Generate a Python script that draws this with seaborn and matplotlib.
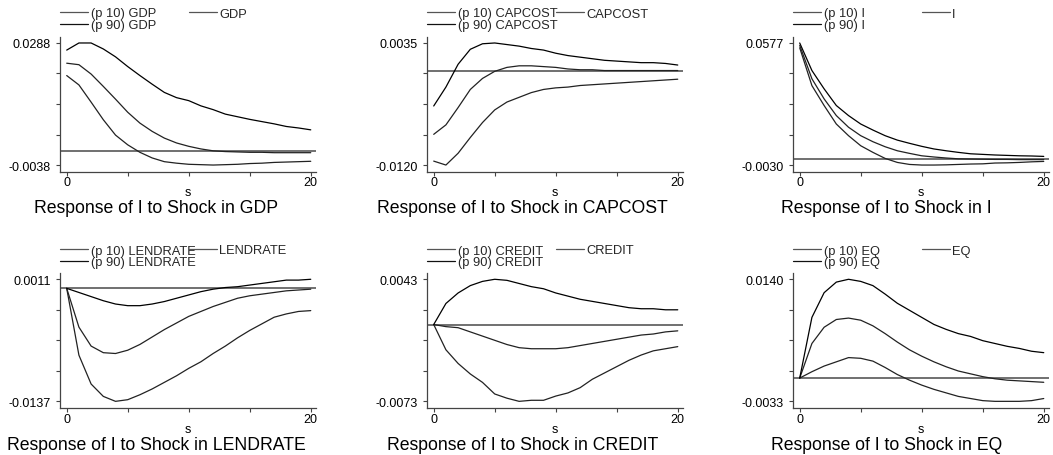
import numpy as np
import pandas as pd
import matplotlib
matplotlib.use("Agg")
import matplotlib.pyplot as plt
from matplotlib.lines import Line2D
import seaborn as sns

# ---------------- data ----------------
steps = list(range(21))
shocks = ["GDP", "CAPCOST", "I", "LENDRATE", "CREDIT", "EQ"]
y_top_labels = ["0.0288", "0.0035", "0.0577", "0.0011", "0.0043", "0.0140"]
y_bot_labels = ["-0.0038", "-0.0120", "-0.0030", "-0.0137", "-0.0073", "-0.0033"]

gdp_p10 = [0.0201, 0.0176, 0.0130, 0.0083, 0.0042, 0.0016, -0.0004, -0.0019, -0.0029, -0.0033, -0.0036,
           -0.0037, -0.0038, -0.0037, -0.0036, -0.0034, -0.0033, -0.0031, -0.0030, -0.0029, -0.0028]
gdp_mid = [0.0234, 0.0230, 0.0205, 0.0172, 0.0138, 0.0103, 0.0074, 0.0052, 0.0034, 0.0021, 0.0012,
           0.0005, 0.0000, -0.0002, -0.0003, -0.0004, -0.0004, -0.0005, -0.0005, -0.0005, -0.0005]
gdp_p90 = [0.0269, 0.0288, 0.0288, 0.0272, 0.0251, 0.0225, 0.0201, 0.0178, 0.0156, 0.0142, 0.0134,
           0.0120, 0.0110, 0.0098, 0.0091, 0.0084, 0.0078, 0.0072, 0.0065, 0.0061, 0.0056]

cap_p10 = [-0.0115, -0.0120, -0.0105, -0.0085, -0.0066, -0.0050, -0.0040, -0.0034, -0.0028, -0.0024, -0.0022,
           -0.0021, -0.0019, -0.0018, -0.0017, -0.0016, -0.0015, -0.0014, -0.0013, -0.0012, -0.0011]
cap_mid = [-0.0081, -0.0069, -0.0047, -0.0024, -0.0010, -0.0001, 0.0004, 0.0006, 0.0006, 0.0005, 0.0004,
           0.0002, 0.0001, 0.0001, 0.0000, 0.0000, 0.0000, 0.0000, 0.0000, 0.0000, 0.0000]
cap_p90 = [-0.0045, -0.0021, 0.0008, 0.0027, 0.0034, 0.0035, 0.0033, 0.0031, 0.0028, 0.0026, 0.0022,
           0.0019, 0.0017, 0.0015, 0.0013, 0.0012, 0.0011, 0.0010, 0.0010, 0.0009, 0.0007]

i_p10 = [0.0553, 0.0365, 0.0266, 0.0174, 0.0116, 0.0066, 0.0033, 0.0003, -0.0017, -0.0027, -0.0030,
         -0.0030, -0.0029, -0.0027, -0.0025, -0.0024, -0.0020, -0.0019, -0.0017, -0.0014, -0.0012]
i_mid = [0.0565, 0.0399, 0.0299, 0.0216, 0.0158, 0.0116, 0.0086, 0.0061, 0.0041, 0.0028, 0.0016,
         0.0010, 0.0005, 0.0001, 0.0000, -0.0001, -0.0002, -0.0002, -0.0003, -0.0003, -0.0003]
i_p90 = [0.0577, 0.0440, 0.0349, 0.0266, 0.0216, 0.0174, 0.0144, 0.0116, 0.0094, 0.0078, 0.0063,
         0.0050, 0.0041, 0.0033, 0.0026, 0.0023, 0.0020, 0.0018, 0.0016, 0.0015, 0.0013]

len_p10 = [0.0000, -0.0081, -0.0116, -0.0131, -0.0137, -0.0135, -0.0129, -0.0122, -0.0114, -0.0106, -0.0097,
           -0.0089, -0.0079, -0.0070, -0.0060, -0.0051, -0.0043, -0.0035, -0.0031, -0.0028, -0.0027]
len_mid = [0.0000, -0.0047, -0.0070, -0.0078, -0.0079, -0.0075, -0.0068, -0.0059, -0.0050, -0.0042, -0.0034,
           -0.0028, -0.0022, -0.0017, -0.0012, -0.0009, -0.0007, -0.0005, -0.0003, -0.0002, -0.0001]
len_p90 = [0.0000, -0.0005, -0.0010, -0.0015, -0.0019, -0.0021, -0.0021, -0.0019, -0.0016, -0.0012, -0.0008,
           -0.0004, -0.0001, 0.0001, 0.0002, 0.0004, 0.0006, 0.0008, 0.0010, 0.0010, 0.0011]

cr_p10 = [0.0000, -0.0024, -0.0037, -0.0047, -0.0055, -0.0066, -0.0070, -0.0073, -0.0072, -0.0072, -0.0068,
          -0.0065, -0.0060, -0.0052, -0.0046, -0.0040, -0.0034, -0.0029, -0.0025, -0.0023, -0.0021]
cr_mid = [0.0000, -0.0002, -0.0003, -0.0007, -0.0011, -0.0015, -0.0019, -0.0022, -0.0023, -0.0023, -0.0023,
          -0.0022, -0.0020, -0.0018, -0.0016, -0.0014, -0.0012, -0.0010, -0.0009, -0.0007, -0.0006]
cr_p90 = [0.0000, 0.0020, 0.0030, 0.0037, 0.0041, 0.0043, 0.0042, 0.0039, 0.0036, 0.0034, 0.0030,
          0.0027, 0.0024, 0.0022, 0.0020, 0.0018, 0.0016, 0.0015, 0.0015, 0.0014, 0.0014]

eq_p10 = [0.0000, 0.0009, 0.0017, 0.0023, 0.0029, 0.0028, 0.0024, 0.0015, 0.0005, -0.0003, -0.0010,
          -0.0016, -0.0021, -0.0026, -0.0029, -0.0032, -0.0033, -0.0033, -0.0033, -0.0032, -0.0029]
eq_mid = [0.0000, 0.0049, 0.0072, 0.0083, 0.0085, 0.0082, 0.0074, 0.0063, 0.0051, 0.0040, 0.0031,
          0.0023, 0.0016, 0.0010, 0.0006, 0.0002, -0.0001, -0.0003, -0.0004, -0.0005, -0.0006]
eq_p90 = [0.0000, 0.0086, 0.0121, 0.0136, 0.0140, 0.0137, 0.0131, 0.0119, 0.0106, 0.0096, 0.0086,
          0.0076, 0.0069, 0.0063, 0.0059, 0.0053, 0.0049, 0.0045, 0.0042, 0.0038, 0.0036]

p10_series = [gdp_p10, cap_p10, i_p10, len_p10, cr_p10, eq_p10]
mid_series = [gdp_mid, cap_mid, i_mid, len_mid, cr_mid, eq_mid]
p90_series = [gdp_p90, cap_p90, i_p90, len_p90, cr_p90, eq_p90]

# ---------------- style ----------------
sns.set_theme(style="ticks")
plt.rcParams['font.family'] = ['Liberation Sans', 'DejaVu Sans']

W, H = 1053, 456
fig = plt.figure(figsize=(W / 100, H / 100), dpi=100)
fig.patch.set_facecolor("white")

col_left = [60, 427, 793]
row_top = [38, 274.3]
ax_w, ax_h = 256, 135
leg_top = [8.5, 245.5]
title_cx = [156, 522.5, 886.3]
title_cy = [208.5, 446]

spine_col = "#444444"
col_p10, col_mid, col_p90 = "#222222", "#222222", "#000000"

for k, shock in enumerate(shocks):
    r, c = divmod(k, 3)
    left, top = col_left[c], row_top[r]
    ax = fig.add_axes([left / W, 1 - (top + ax_h) / H, ax_w / W, ax_h / H])
    ax.set_facecolor("white")

    ytop = float(y_top_labels[k])
    ybot = float(y_bot_labels[k])
    rng = ytop - ybot

    lab10, lab90 = f"(p 10) {shock}", f"(p 90) {shock}"
    df = pd.DataFrame({
        "s": steps * 3,
        "value": p10_series[k] + mid_series[k] + p90_series[k],
        "series": [lab10] * 21 + [shock] * 21 + [lab90] * 21,
    })

    ax.axhline(0, color="#707070", lw=1.4, zorder=1)
    sns.lineplot(data=df, x="s", y="value", hue="series",
                 palette={lab10: col_p10, shock: col_mid, lab90: col_p90},
                 estimator=None, legend=False, lw=0.9, ax=ax, zorder=2)

    ax.set_xlim(-0.55, 20.43)
    ax.set_ylim(ybot - 0.057 * rng, ytop + 0.049 * rng)
    ax.set_xticks([0, 5, 10, 15, 20])
    ax.set_xticklabels(["0", "", "", "", "20"])
    ax.set_yticks(np.linspace(ybot, ytop, 5))
    ax.set_yticklabels([y_bot_labels[k], "", "", "", y_top_labels[k]])
    ax.tick_params(axis="both", direction="out", length=2.6, width=0.8,
                   color=spine_col, labelsize=9, labelcolor="black")
    ax.tick_params(axis="x", pad=0.6)
    ax.tick_params(axis="y", pad=4.0)
    for sp in ["top", "right"]:
        ax.spines[sp].set_visible(False)
    for sp in ["left", "bottom"]:
        ax.spines[sp].set_color(spine_col)
        ax.spines[sp].set_linewidth(0.9)
    ax.set_xlabel("s", fontsize=9, labelpad=-1.5, color="black")
    ax.set_ylabel("")

    h10 = Line2D([], [], color="#555555", lw=0.9)
    h90 = Line2D([], [], color="#111111", lw=0.9)
    hmid = Line2D([], [], color="#555555", lw=0.9)
    common = dict(loc="upper left", bbox_transform=fig.transFigure, frameon=False,
                  fontsize=9.25, handlelength=2.18, handletextpad=0.2,
                  labelspacing=-0.02, borderpad=0, borderaxespad=0)
    leg1 = ax.legend(handles=[h10, h90], labels=[lab10, lab90],
                     bbox_to_anchor=(left / W, 1 - leg_top[r] / H), **common)
    ax.add_artist(leg1)
    ax.legend(handles=[hmid], labels=[shock],
              bbox_to_anchor=((left + 128.5) / W, 1 - leg_top[r] / H), **common)

    fig.text(title_cx[c] / W, 1 - title_cy[r] / H, f"Response of I to Shock in {shock}",
             ha="center", va="center", fontsize=12.7, color="black")

fig.savefig("out.png", dpi=100, facecolor="white")
